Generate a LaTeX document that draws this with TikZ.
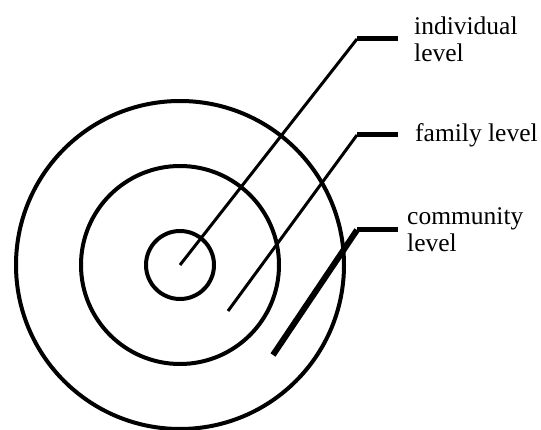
\documentclass[tikz,border=0pt]{standalone}
\usepackage{fontspec}
\setmainfont{Liberation Serif}
\usetikzlibrary{positioning}

\begin{document}
\begin{tikzpicture}[
          x=1pt, y=-1pt,
          ring/.style={draw=black, line width=4pt},
          leader/.style={draw=black, line width=3pt},
          shelf/.style={draw=black, line width=5pt},
          tag/.style={
            inner sep=0pt,
            align=left,
            font=\fontsize{25.5}{27}\selectfont
          }
        ]
        \useasboundingbox (0,0) rectangle (541,430);
        % nested levels
        \coordinate (centre) at (180,265);
        \draw[ring] (centre) circle[radius=34];
        \draw[ring] (centre) circle[radius=99];
        \draw[ring] (centre) circle[radius=164];
        % leader points
        \coordinate (ind-start) at (180,265);
        \coordinate (ind-bend)  at (357,39);
        \coordinate (ind-end)   at (398,39);
        \coordinate (fam-start) at (228,311);
        \coordinate (fam-bend)  at (357,135);
        \coordinate (fam-end)   at (398,135);
        \coordinate (com-start) at (273,355);
        \coordinate (com-bend)  at (357,230);
        \coordinate (com-end)   at (398,230);
        % labels
        \node[tag, right=16pt of ind-end] (individual) {individual\\level};
        \node[tag, right=17pt of fam-end] (family) {family level};
        \node[tag, right=9pt of com-end] (community) {community\\level};
        % leaders
        \draw[leader] (ind-start) -- (ind-bend);
        \draw[shelf] (ind-bend) -- (ind-end);
        \draw[leader] (fam-start) -- (fam-bend);
        \draw[shelf] (fam-bend) -- (fam-end);
        \draw[shelf, line width=6pt] (com-start) -- (com-bend);
        \draw[shelf] (com-bend) -- (com-end);
      \end{tikzpicture}
\end{document}
